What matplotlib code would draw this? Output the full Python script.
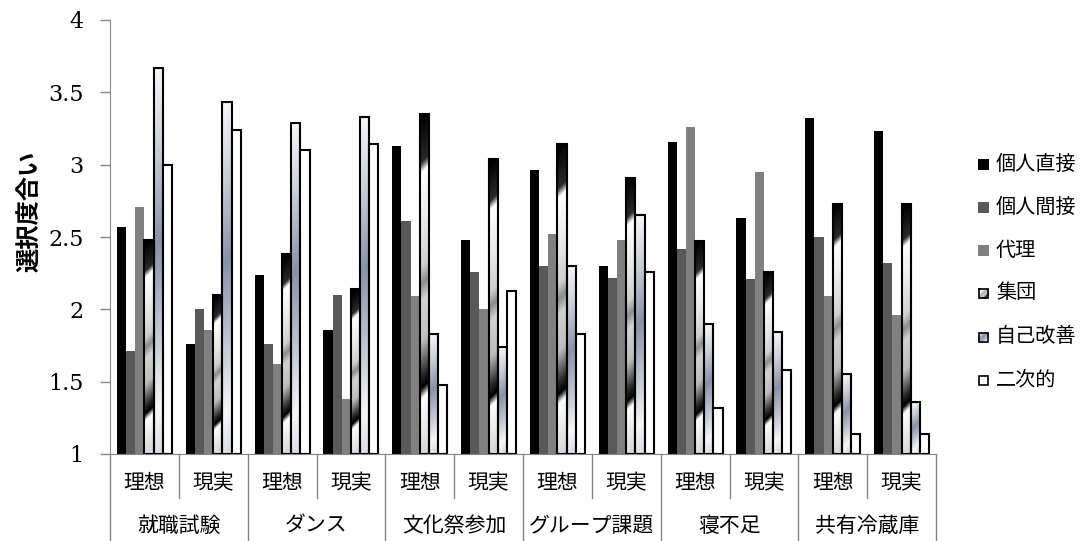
import numpy as np
import matplotlib.pyplot as plt
from matplotlib.colors import LinearSegmentedColormap
from matplotlib.patches import Rectangle
from matplotlib.lines import Line2D

plt.rcParams['font.family'] = ['Noto Sans CJK JP', 'DejaVu Sans']

# 場面と理想/現実
categories = ['就職試験', 'ダンス', '文化祭参加', 'グループ課題', '寝不足', '共有冷蔵庫']
sub_labels = ['理想', '現実']
series = ['個人直接', '個人間接', '代理', '集団', '自己改善', '二次的']

# 各グループ(12本)ごとの選択度合い
kojin_chokusetsu = [2.57, 1.76, 2.24, 1.86, 3.13, 2.48, 2.96, 2.30, 3.16, 2.63, 3.32, 3.23]
kojin_kansetsu   = [1.71, 2.00, 1.76, 2.10, 2.61, 2.26, 2.30, 2.22, 2.42, 2.21, 2.50, 2.32]
dairi            = [2.71, 1.86, 1.62, 1.38, 2.09, 2.00, 2.52, 2.48, 3.26, 2.95, 2.09, 1.96]
shudan           = [2.48, 2.10, 2.38, 2.14, 3.35, 3.04, 3.14, 2.91, 2.47, 2.26, 2.73, 2.73]
jiko_kaizen      = [3.67, 3.43, 3.29, 3.33, 1.83, 1.74, 2.30, 2.65, 1.90, 1.84, 1.55, 1.36]
niji             = [3.00, 3.24, 3.10, 3.14, 1.48, 2.13, 1.83, 2.26, 1.32, 1.58, 1.14, 1.14]

values = [kojin_chokusetsu, kojin_kansetsu, dairi, shudan, jiko_kaizen, niji]

# グラデーション
cmap_shudan = LinearSegmentedColormap.from_list('shudan', [
    (0.00, '#000000'), (0.13, '#2a2a2a'), (0.16, '#ffffff'), (0.30, '#ececec'),
    (0.44, '#cfcfcf'), (0.49, '#8c8c8c'), (0.54, '#d2d2d2'), (0.66, '#bdbdbd'),
    (0.76, '#2a2a2a'), (0.80, '#000000'), (0.83, '#ffffff'), (1.00, '#d6d6d6')])
cmap_jiko = LinearSegmentedColormap.from_list('jiko', [
    (0.00, '#f6f6f8'), (0.20, '#cdd0d8'), (0.45, '#8a92a8'), (0.70, '#c6cad4'),
    (0.88, '#f7f7f8'), (1.00, '#dadde4')])

fig = plt.figure(figsize=(10.85, 5.41), dpi=100)
ax = fig.add_axes([110 / 1085, 87 / 541, 826 / 1085, 434 / 541])

n_groups = len(kojin_chokusetsu)
bw = 0.8 / len(series)
x = np.arange(n_groups)
px_per_x = 826 / n_groups
px_per_y = 434 / 3

flat = {0: '#000000', 1: '#595959', 2: '#808080'}
for j, vals in enumerate(values):
    xs = x + 0.1 + (j + 0.5) * bw
    if j in flat:
        ax.bar(xs, np.array(vals) - 1, bw, bottom=1, color=flat[j], linewidth=0, zorder=2)
        continue
    if j == 5:
        ax.bar(xs, np.array(vals) - 1, bw, bottom=1, facecolor='white',
               edgecolor='black', linewidth=1.5, zorder=3)
        continue
    cmap = cmap_shudan if j == 3 else cmap_jiko
    bars = ax.bar(xs, np.array(vals) - 1, bw, bottom=1, facecolor='none',
                  edgecolor='black', linewidth=1.5, zorder=3)
    for b, v in zip(bars, vals):
        h_px = (v - 1) * px_per_y
        w_px = bw * px_per_x
        rows, cols = 300, 20
        r = np.linspace(0, 1, rows)[:, None]
        c = np.linspace(0, 1, cols)[None, :]
        # 斜め方向(右上がり)のグラデーション
        t = np.clip(r + (w_px / h_px) * (c - 0.5), 0, 1)
        x0 = b.get_x()
        im = ax.imshow(t, cmap=cmap, vmin=0, vmax=1, aspect='auto',
                       extent=(x0, x0 + bw, 1, v), origin='upper',
                       interpolation='bilinear', zorder=2)
        im.set_clip_path(b)

ax.set_xlim(0, n_groups)
ax.set_ylim(1, 4)
ax.set_yticks([1, 1.5, 2, 2.5, 3, 3.5, 4])
ax.set_yticklabels(['1', '1.5', '2', '2.5', '3', '3.5', '4'],
                   fontfamily='DejaVu Serif', fontsize=16)
ax.tick_params(axis='y', length=7, width=1, color='#868686', pad=12)
ax.set_xticks([])
for s in ['top', 'right']:
    ax.spines[s].set_visible(False)
ax.spines['left'].set_color('#868686')
ax.spines['bottom'].set_color('#868686')

# 2段の横軸ラベル
y_sub = -29 / 434
y_cat = -72 / 434
y_short = -44 / 434
y_long = -87 / 434
for i in range(n_groups):
    xc = (i + 0.5) / n_groups
    ax.text(xc, y_sub, sub_labels[i % 2], transform=ax.transAxes,
            ha='center', va='center', fontsize=15)
for k in range(len(categories)):
    xc = (2 * k + 1) / n_groups
    ax.text(xc, y_cat, categories[k], transform=ax.transAxes,
            ha='center', va='center', fontsize=15)
for i in range(n_groups + 1):
    xf = i / n_groups
    yb = y_long if i % 2 == 0 else y_short
    ax.add_line(Line2D([xf, xf], [0, yb], transform=ax.transAxes,
                       color='#868686', lw=1, clip_on=False))

fig.text(30 / 1085, 1 - 211 / 541, '選択度合い', rotation=90, ha='center',
         va='center', fontsize=17.5, fontweight='bold')

# 凡例
leg_y = [164, 207, 250, 293, 337, 380]
for j, name in enumerate(series):
    yc = leg_y[j]
    lax = fig.add_axes([978 / 1085, 1 - (yc + 6) / 541, 11 / 1085, 11 / 541])
    lax.set_axis_off()
    if j in flat:
        lax.add_patch(Rectangle((0, 0), 1, 1, color=flat[j]))
    elif j == 5:
        lax.add_patch(Rectangle((0.05, 0.05), 0.9, 0.9, facecolor='white',
                                edgecolor='black', lw=1.2))
    else:
        cmap = cmap_shudan if j == 3 else cmap_jiko
        g = np.linspace(0, 1, 20)
        t = (g[:, None] + g[None, :]) / 2
        lax.imshow(t, cmap=cmap, extent=(0, 1, 0, 1), aspect='auto')
        lax.add_patch(Rectangle((0.05, 0.05), 0.9, 0.9, facecolor='none',
                                edgecolor='black', lw=1.2))
    lax.set_xlim(0, 1)
    lax.set_ylim(0, 1)
    fig.text(996 / 1085, 1 - yc / 541, name, ha='left', va='center', fontsize=14.5)

fig.savefig('out.png', dpi=100)
